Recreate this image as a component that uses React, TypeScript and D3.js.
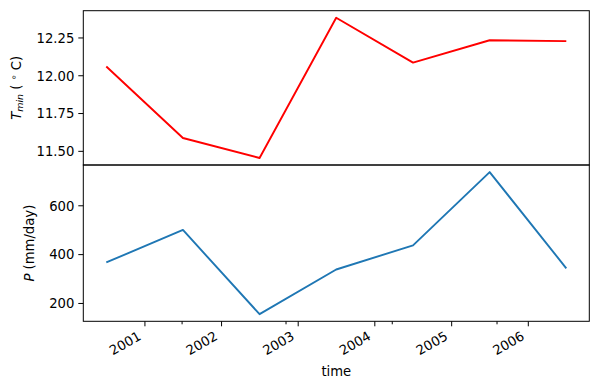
import React from "react";
import * as d3 from "d3";

const dates = ["2000-07-01", "2001-07-01", "2002-07-01", "2003-07-01", "2004-07-01", "2005-07-01", "2006-07-01"];
const tminValues = [12.061, 11.588, 11.456, 12.384, 12.087, 12.235, 12.229];
const precipValues = [368, 501, 156, 339, 438, 738, 344];
const yearTicks = ["2001", "2002", "2003", "2004", "2005", "2006"];
const minorTickDates = ["2001-06-27", "2002-11-04", "2004-03-24", "2005-08-05"];
const tminTicks = [11.5, 11.75, 12.0, 12.25];
const precipTicks = [200, 400, 600];

const W = 598;
const H = 390;
const L = 83.3;
const R = 589.3;
const T1 = 10.7;
const MID = 165;
const B2 = 321.3;
const FONT = "DejaVu Sans, sans-serif";
const FS = 13.2;

function pad(ext: [number, number], f = 0.05): [number, number] {
  const r = ext[1] - ext[0];
  return [ext[0] - r * f, ext[1] + r * f];
}

export default function App() {
  const parsed = dates.map((d) => new Date(d + "T00:00:00Z"));
  const t0 = parsed[0].getTime();
  const t1 = parsed[parsed.length - 1].getTime();
  const [xa, xb] = pad([t0, t1]);
  const x = d3.scaleUtc().domain([new Date(xa), new Date(xb)]).range([L, R]);

  const y1 = d3.scaleLinear().domain(pad(d3.extent(tminValues) as [number, number])).range([MID, T1]);
  const y2 = d3.scaleLinear().domain(pad(d3.extent(precipValues) as [number, number])).range([B2, MID]);

  const line1 = d3
    .line<number>()
    .x((_, i) => x(parsed[i]))
    .y((v) => y1(v));
  const line2 = d3
    .line<number>()
    .x((_, i) => x(parsed[i]))
    .y((v) => y2(v));

  const yearX = yearTicks.map((y) => x(new Date(y + "-01-01T00:00:00Z")));
  const minorX = minorTickDates.map((d) => x(new Date(d + "T00:00:00Z")));

  return (
    <svg
      width={W}
      height={H}
      style={{ position: "absolute", left: 0, top: 0, background: "#fff" }}
      fontFamily={FONT}
      fontSize={FS}
    >
      <rect x={0} y={0} width={W} height={H} fill="#fff" />
      <defs>
        <clipPath id="c1">
          <rect x={L} y={T1} width={R - L} height={MID - T1} />
        </clipPath>
        <clipPath id="c2">
          <rect x={L} y={MID} width={R - L} height={B2 - MID} />
        </clipPath>
      </defs>

      {/* lines */}
      <path d={line1(tminValues) || ""} fill="none" stroke="#ff0000" strokeWidth={1.9} strokeLinejoin="round" clipPath="url(#c1)" />
      <path d={line2(precipValues) || ""} fill="none" stroke="#1f77b4" strokeWidth={1.9} strokeLinejoin="round" clipPath="url(#c2)" />

      {/* frames */}
      <rect x={L} y={T1} width={R - L} height={MID - T1} fill="none" stroke="#000" strokeWidth={1} />
      <rect x={L} y={MID} width={R - L} height={B2 - MID} fill="none" stroke="#000" strokeWidth={1} />

      {/* top y ticks */}
      {tminTicks.map((t) => (
        <g key={"t" + t}>
          <line x1={L - 5} x2={L} y1={y1(t)} y2={y1(t)} stroke="#000" strokeWidth={1} />
          <text x={L - 9} y={y1(t)} dy="0.36em" textAnchor="end" fill="#000">
            {t.toFixed(2)}
          </text>
        </g>
      ))}

      {/* bottom y ticks */}
      {precipTicks.map((t) => (
        <g key={"p" + t}>
          <line x1={L - 5} x2={L} y1={y2(t)} y2={y2(t)} stroke="#000" strokeWidth={1} />
          <text x={L - 9} y={y2(t)} dy="0.36em" textAnchor="end" fill="#000">
            {String(t)}
          </text>
        </g>
      ))}

      {/* x major ticks */}
      {yearX.map((xx, i) => (
        <g key={"x" + yearTicks[i]}>
          <line x1={xx} x2={xx} y1={B2} y2={B2 + 5} stroke="#000" strokeWidth={1} />
          <text
            transform={`translate(${xx - 3},${B2 + 17.5}) rotate(-30)`}
            textAnchor="end"
            fill="#000"
          >
            {yearTicks[i]}
          </text>
        </g>
      ))}
      {/* x minor ticks */}
      {minorX.map((mx, i) => (
        <line key={"m" + i} x1={mx} x2={mx} y1={B2} y2={B2 + 3} stroke="#000" strokeWidth={1} />
      ))}

      {/* x label */}
      <text x={(L + R) / 2} y={376} textAnchor="middle" fill="#000">
        time
      </text>

      {/* y labels */}
      <text transform={`translate(21,${(T1 + MID) / 2}) rotate(-90)`} textAnchor="middle" fill="#000">
        <tspan fontStyle="italic">T</tspan>
        <tspan fontStyle="italic" fontSize={9.5} dy={2}>min</tspan>
        <tspan dy={-2}>{" ( "}</tspan>
        <tspan fontSize={9.5} dy={-4}>{"∘"}</tspan>
        <tspan dy={4}>{" C)"}</tspan>
      </text>
      <text transform={`translate(34,${(MID + B2) / 2}) rotate(-90)`} textAnchor="middle" fill="#000">
        <tspan fontStyle="italic">P</tspan>
        <tspan>{" (mm/day)"}</tspan>
      </text>
    </svg>
  );
}
